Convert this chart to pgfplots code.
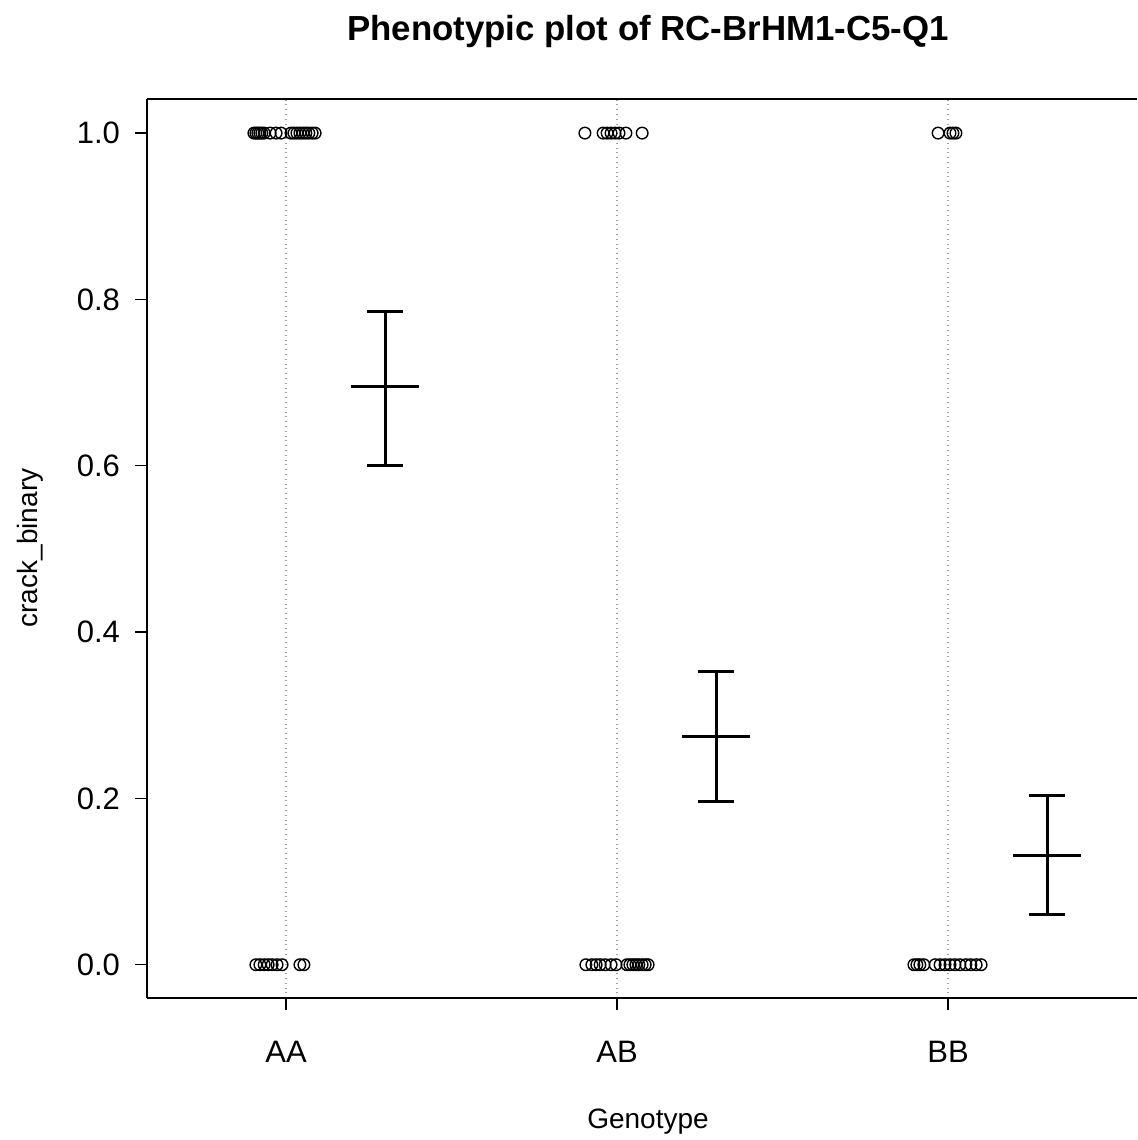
\documentclass[border=0pt]{standalone}
\usepackage{fontspec}
\setmainfont{Liberation Sans}
\usepackage{pgfplots}
\pgfplotsset{compat=1.18}
\begin{document}
\begin{tikzpicture}
\begin{axis}[
 at={(0,0)}, anchor=south west,
 scale only axis, width=495pt, height=449.5pt,
 xmin=0.58, xmax=3.571, ymin=-0.04, ymax=1.041,
 axis y line*=left,
 axis line style={line width=0.8pt},
 xtick={1,2,3}, xticklabels={AA,AB,BB},
 xtick pos=bottom, ytick pos=left,
 ytick={0,0.2,0.4,0.6,0.8,1.0},
 yticklabel style={xshift=-4pt, /pgf/number format/.cd, fixed, fixed zerofill, precision=1},
 tick align=outside, major tick length=6pt,
 tick style={line width=0.6pt, black},
 ticklabel style={font=\fontsize{15.5}{18}\selectfont},
 xticklabel style={yshift=-12pt},
 /pgf/number format/assume math mode=true,
 xmajorgrids, grid style={dotted, gray!75, line width=0.55pt},
 clip=false,
]
\addplot[only marks, mark=o, mark size=2.9pt, mark options={line width=0.7pt}] table {
x y
0.903 1
0.909 1
0.915 1
0.921 1
0.927 1
0.934 1
0.952 1
0.970 1
0.985 1
1.015 1
1.024 1
1.033 1
1.042 1
1.051 1
1.060 1
1.069 1
1.079 1
1.088 1
0.909 0
0.921 0
0.934 0
0.946 0
0.958 0
0.973 0
0.988 0
1.042 0
1.054 0
1.903 1
1.958 1
1.970 1
1.982 1
1.994 1
2.006 1
2.027 1
2.076 1
1.906 0
1.924 0
1.937 0
1.949 0
1.964 0
1.982 0
1.997 0
2.030 0
2.039 0
2.048 0
2.057 0
2.066 0
2.076 0
2.085 0
2.094 0
2.970 1
3.006 1
3.015 1
3.024 1
2.897 0
2.906 0
2.915 0
2.927 0
2.961 0
2.976 0
2.991 0
3.006 0
3.021 0
3.036 0
3.054 0
3.069 0
3.085 0
3.100 0
};
% AA
\addplot[line width=1.5pt] coordinates {(1.30,0.600) (1.30,0.786)};
\addplot[line width=1.5pt] coordinates {(1.246,0.786) (1.354,0.786)};
\addplot[line width=1.5pt] coordinates {(1.246,0.600) (1.354,0.600)};
\addplot[line width=1.5pt] coordinates {(1.197,0.695) (1.403,0.695)};
% AB
\addplot[line width=1.5pt] coordinates {(2.30,0.196) (2.30,0.353)};
\addplot[line width=1.5pt] coordinates {(2.246,0.353) (2.354,0.353)};
\addplot[line width=1.5pt] coordinates {(2.246,0.196) (2.354,0.196)};
\addplot[line width=1.5pt] coordinates {(2.197,0.275) (2.403,0.275)};
% BB
\addplot[line width=1.5pt] coordinates {(3.30,0.061) (3.30,0.203)};
\addplot[line width=1.5pt] coordinates {(3.246,0.203) (3.354,0.203)};
\addplot[line width=1.5pt] coordinates {(3.246,0.061) (3.354,0.061)};
\addplot[line width=1.5pt] coordinates {(3.197,0.131) (3.403,0.131)};
\end{axis}
\node[font=\bfseries\fontsize{17.4}{20}\selectfont] at (250.5pt,483pt) {Phenotypic plot of RC-BrHM1-C5-Q1};
\node[font=\fontsize{14}{16}\selectfont] at (250.5pt,-62pt) {Genotype};
\node[font=\fontsize{14}{16}\selectfont, rotate=90] at (-58.5pt,225pt) {crack\_binary};
\pgfresetboundingbox
\path (-73.5pt,-71pt) rectangle (495pt,499pt);
\end{tikzpicture}
\end{document}
